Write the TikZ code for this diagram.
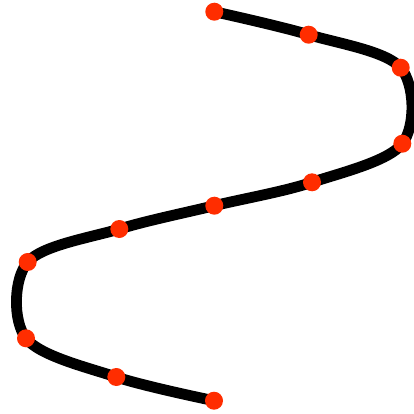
\documentclass[tikz,border=0pt]{standalone}
\begin{document}
\begin{tikzpicture}[x=1pt,y=-1pt,
  dotstyle/.style={circle,fill=dotred,inner sep=0pt,minimum size=18pt},
  curvestyle/.style={line width=10.8pt,line cap=round,line join=round}]
\definecolor{dotred}{RGB}{255,45,0}
\useasboundingbox (0,0) rectangle (414,414);
\coordinate (p1) at (214.3,11.7);
\coordinate (p2) at (308.7,34.7);
\coordinate (p3) at (400.7,67.7);
\coordinate (p4) at (402.3,143.7);
\coordinate (p5) at (312,182.3);
\coordinate (p6) at (214.3,205.7);
\coordinate (p7) at (119.3,229);
\coordinate (p8) at (27.7,262);
\coordinate (p9) at (26,338.3);
\coordinate (p10) at (116.3,377);
\coordinate (p11) at (214,400.7);
\draw[curvestyle] plot[smooth,tension=0.55] coordinates {(p1) (p2) (p3) (p4) (p5) (p6) (p7) (p8) (p9) (p10) (p11)};
\foreach \i in {1,...,11} \node[dotstyle] (d\i) at (p\i) {};
\end{tikzpicture}
\end{document}
